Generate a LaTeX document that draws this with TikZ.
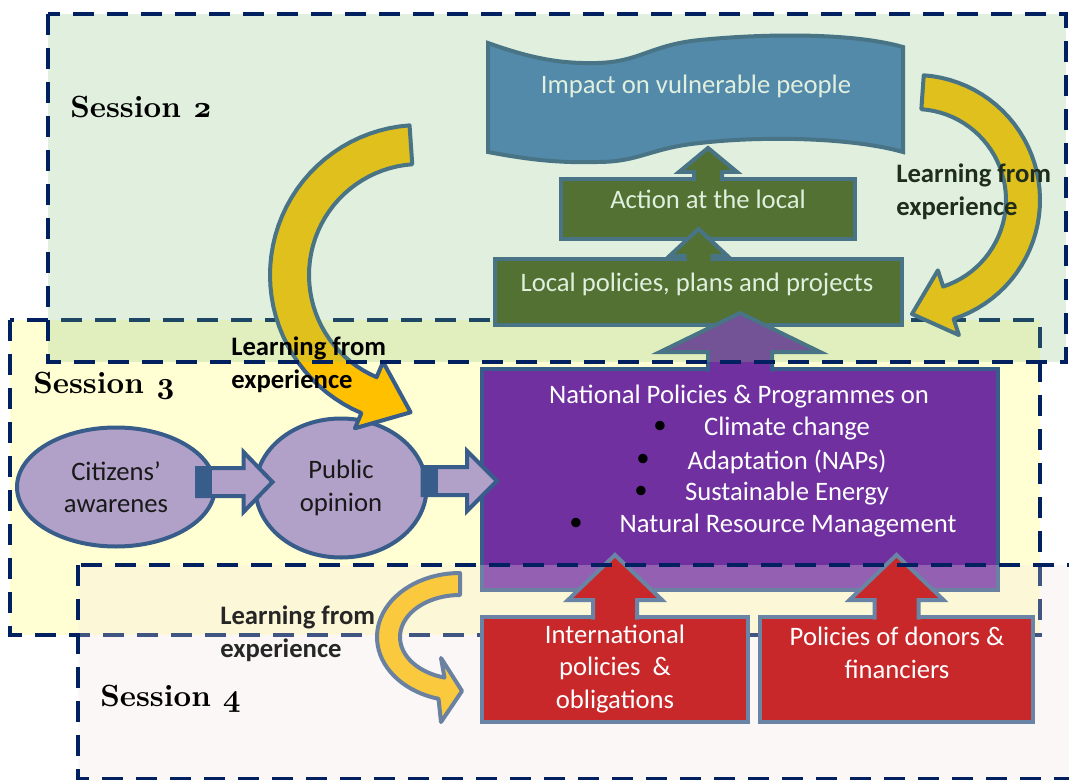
\documentclass[tikz,border=0pt]{standalone}
\usepackage{fontspec}
\setmainfont{Carlito}
\newfontfamily\sessfont{lmroman10-bold.otf}[BoldFont=lmroman10-bold.otf]
\usetikzlibrary{positioning,calc,shapes.geometric}

\definecolor{navy}{HTML}{002060}
\definecolor{frame}{HTML}{385D8A}
\definecolor{olivebox}{HTML}{46591C}
\definecolor{bannerblue}{HTML}{4679B9}
\definecolor{natpurple}{HTML}{7030A0}
\definecolor{lavender}{HTML}{B1A0C7}
\definecolor{learnyellow}{HTML}{FFC000}
\definecolor{intred}{HTML}{C8282A}
\definecolor{redframe}{HTML}{6A84A6}
\definecolor{sessgreen}{HTML}{7EC079}
\definecolor{sessyellow}{HTML}{FFFFD3}
\definecolor{sesspink}{HTML}{F2E4E4}

\def\px{0.75pt}

% up block arrow: style, from, to, head length, head half width, stem half width
\newcommand{\blockup}[6]{%
  \filldraw[#1] let \p1=(#2), \p2=(#3) in
    (\x1-#6*\px,\y1) -- (\x1-#6*\px,\y2-#4*\px) -- (\x1-#5*\px,\y2-#4*\px) -- (\x1,\y2)
    -- (\x1+#5*\px,\y2-#4*\px) -- (\x1+#6*\px,\y2-#4*\px) -- (\x1+#6*\px,\y1);}
% right block arrow, same arguments
\newcommand{\blockright}[6]{%
  \filldraw[#1] let \p1=(#2), \p2=(#3) in
    (\x1,\y1+#6*\px) -- (\x2-#4*\px,\y1+#6*\px) -- (\x2-#4*\px,\y1+#5*\px) -- (\x2,\y1)
    -- (\x2-#4*\px,\y1-#5*\px) -- (\x2-#4*\px,\y1-#6*\px) -- (\x1,\y1-#6*\px) -- cycle;
  \fill[frame] let \p1=(#2) in (\x1,\y1+#6*\px) rectangle (\x1+15*\px,\y1-#6*\px);}

\tikzset{
  box/.style={rectangle, draw=frame, line width=3pt, inner sep=0pt},
  greenbox/.style={box, fill=olivebox},
  natbox/.style={box, fill=natpurple},
  redbox/.style={box, draw=redframe, fill=intred},
  opinion/.style={ellipse, draw=frame, line width=3pt, fill=lavender, inner sep=0pt,
    align=center, text=black!90, font=\fontsize{20}{24.4}\selectfont},
  boxtext/.style={text=white, align=center, inner sep=0pt, font=\fontsize{20}{24.4}\selectfont},
  bulletdot/.style={text=black, inner sep=0pt, font=\fontsize{20}{24}\selectfont},
  learn/.style={anchor=west, align=left, inner sep=0pt, font=\fontsize{20}{24.4}\selectfont\bfseries},
  sesslabel/.style={anchor=base west, inner sep=0pt, font=\fontsize{23}{27}\selectfont\sessfont\bfseries},
  sessbox/.style={draw=navy, line width=3pt, dash pattern=on 16pt off 9.5pt},
  greenarrow/.style={draw=frame, line width=3pt, fill=olivebox},
  natarrow/.style={draw=frame, line width=3pt, fill=natpurple},
  redarrow/.style={draw=redframe, line width=3pt, fill=intred},
  opinionarrow/.style={draw=frame, line width=3pt, fill=lavender},
  learnarrow/.style={draw=frame, line width=3pt, fill=learnyellow, line join=round},
  wave/.style={draw=frame, line width=3pt, fill=bannerblue}
}

\begin{document}
\begin{tikzpicture}[x=0.75pt,y=-0.75pt]
\useasboundingbox (0,0) rectangle (1069,780);
\clip (0,0) rectangle (1069,780);
\fill[white] (0,0) rectangle (1069,780);

% session 3 area
\fill[sessyellow] (10,320) rectangle (1040,635);
\draw[sessbox] (10,320) rectangle (1040,635);

% impact banner
\filldraw[wave] (488,43) .. controls (530,58) and (560,64) .. (597,63)
  .. controls (640,62) and (650,45) .. (700,40) .. controls (760,34) and (850,32) .. (903,47)
  -- (903,152) .. controls (850,137) and (760,136) .. (700,143)
  .. controls (650,148) and (640,162) .. (597,162) .. controls (560,163) and (530,160) .. (488,152) -- cycle;
\node[boxtext] (impact) at (696,86) {Impact on vulnerable people};

% local level
\node[greenbox, minimum width=220.5pt, minimum height=45pt] (action) at (708,209) {};
\node[greenbox, minimum width=305.25pt, minimum height=49.5pt] (local) at (698.5,292) {};
\blockup{greenarrow}{$(action.north)+(0,4.5)$}{$(action.north)+(0,-29)$}{24}{29}{14}
\blockup{greenarrow}{$(local.north)+(0,4.5)$}{$(action.south)+(0,-12)$}{27}{29}{14}
\node[boxtext] (actiontxt) at (708,199) {Action at the local};
\node[boxtext] (localtxt) at (697,285) {Local policies, plans and projects};

% national level
\node[natbox, minimum width=387pt, minimum height=165.75pt] (natpol) at (740,479.5) {};
\blockup{natarrow}{$(natpol.north)+(0,4.5)$}{$(local.south)+(0,-14)$}{39}{80}{32}
\node[boxtext] (natpoltxt) at (739,397) {National Policies \& Programmes on};
\node[boxtext] (cc) at (787,429) {Climate change};
\node[boxtext] (ad) at (787,462) {Adaptation (NAPs)};
\node[boxtext] (se) at (787,494) {Sustainable Energy};
\node[boxtext] (nr) at (788,526) {Natural Resource Management};
\node[bulletdot] (b1) at (660,427) {\textbullet};
\node[bulletdot] (b2) at (643,460) {\textbullet};
\node[bulletdot] (b3) at (641,492) {\textbullet};
\node[bulletdot] (b4) at (576,524) {\textbullet};

% citizens and opinion
\node[opinion, minimum width=148.5pt, minimum height=89.25pt] (citizens) at (116,487) {Citizens’\\awarenes};
\node[opinion, minimum width=128.25pt, minimum height=104.25pt] (public) at (341,488) {Public\\opinion};
\blockright{opinionarrow}{$(citizens.east)+(-20,-5)$}{$(public.west)+(19,0)$}{29}{30}{14}
\blockright{opinionarrow}{$(public.east)+(-6,-7)$}{$(natpol.west)+(17,0)$}{30}{30}{14}

% learning loops
\filldraw[learnarrow] plot[domain=266:113, samples=40] ({420+150*cos(\x)},{275+150*sin(\x)})
  -- ({420+166.5*cos(113)},{275+166.5*sin(113)}) -- (410.6,412.3)
  -- ({420+94.5*cos(113)},{275+94.5*sin(113)})
  -- plot[domain=113:266, samples=40] ({420+111*cos(\x)},{275+111*sin(\x)}) -- cycle;
\filldraw[learnarrow] plot[domain=-86:72, samples=40] ({915+125*cos(\x)},{200+125*sin(\x)})
  -- ({915+142*cos(72)},{200+142*sin(72)}) -- (912,314)
  -- ({915+74*cos(72)},{200+74*sin(72)})
  -- plot[domain=72:-86, samples=40] ({915+91*cos(\x)},{200+91*sin(\x)}) -- cycle;
\node[learn] (learn2) at (896,192) {Learning from\\experience};

% session 2 area
\fill[sessgreen, opacity=0.24] (48,14) rectangle (1066,362);
\draw[sessbox] (48,14) rectangle (1066,362);
\node[learn] (learn3) at (231,364.5) {Learning from\\experience};
\node[sesslabel] (sess2) at (70,118) {Session \oldstylenums{2}};
\node[sesslabel] (sess3) at (33,393) {Session \oldstylenums{3}};

% session 4 area
\filldraw[learnarrow] plot[domain=270:105, samples=40] ({460+83*cos(\x)},{637+64*sin(\x)})
  -- (441,722) -- (462,691) -- (441,658)
  -- plot[domain=105:270, samples=40] ({460+60*cos(\x)},{637+42*sin(\x)}) -- cycle;
\fill[sesspink, opacity=0.27] (78,565) rectangle (1080,790);
\node[redbox, minimum width=199.5pt, minimum height=78.75pt] (intl) at (615,669.5) {};
\node[redbox, minimum width=204.75pt, minimum height=78.75pt] (donors) at (896.5,669.5) {};
\blockup{redarrow}{$(intl.north)+(0,4.5)$}{$(natpol.south)+(0,-37)$}{45}{47}{22}
\blockup{redarrow}{$(donors.north)+(0,4.5)$}{$(natpol.south)+(0,-37)$}{45}{47}{22}
\node[boxtext] (intltxt) at (615,669) {International\\policies\ \ \&\\obligations};
\node[boxtext] (donortxt) at (897,653) {Policies of donors \&\\financiers};
\draw[sessbox] (78,565) rectangle (1100,779);
\node[sesslabel] (sess4) at (100,706) {Session \oldstylenums{4}};
\node[learn, text=black!85] (learn4) at (220,634) {Learning from\\experience};
\end{tikzpicture}
\end{document}
